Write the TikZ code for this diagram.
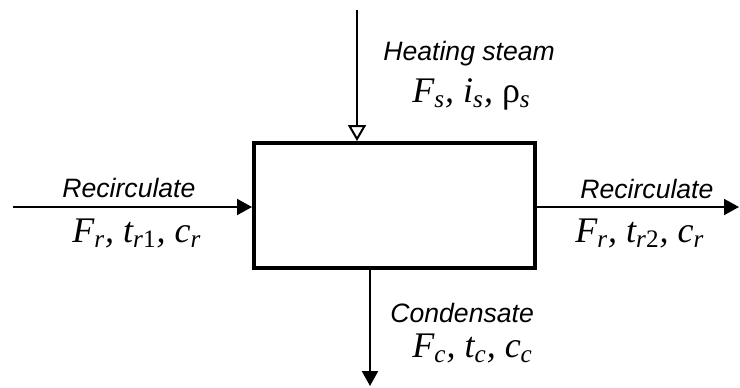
\documentclass[tikz,border=0pt]{standalone}
\usepackage{fontspec}
\setmainfont{Liberation Serif}
\setsansfont{Liberation Sans}
\usetikzlibrary{arrows.meta}
\newcommand{\flowsub}[1]{\textsubscript{#1}}

\begin{document}
\begin{tikzpicture}[x=0.5pt, y=-0.5pt,
    flusso/.style={line width=1pt, -{Triangle[length=7.5pt, width=8pt]}},
    vapore/.style={line width=1pt, -{Triangle[open, length=8pt, width=9pt]}},
    nome/.style={font=\sffamily\itshape\fontsize{13.3}{15}\selectfont, inner sep=0pt},
    dati/.style={font=\rmfamily\itshape\fontsize{18}{20}\selectfont, inner sep=0pt}]

    \useasboundingbox (0,0) rectangle (740,387);

    % Apparecchio
    \node[draw, line width=2pt, minimum width=140.5pt, minimum height=62.5pt,
          inner sep=0pt] (box) at (394.5,205.5) {};

    % Estremi liberi dei flussi
    \coordinate (steam) at (357,10);
    \coordinate (inlet) at (13,207);
    \coordinate (outlet) at (739,207);
    \coordinate (cond) at (370,386);

    % Flussi
    \draw[vapore] (steam) -- (steam |- box.north);
    \draw[flusso] (inlet) -- (inlet -| box.west);
    \draw[flusso] (box.east |- outlet) -- (outlet);
    \draw[flusso] (cond |- box.south) -- (cond);

    % Etichette
    \node[nome, anchor=base west] (steamname) at (383,60) {Heating steam};
    \node[dati, anchor=base west] (steamdata) at (412,102)
        {F\flowsub{s}, i\flowsub{s}, \textup{ρ}\flowsub{s}};

    \node[nome, anchor=base west] (inname) at (62,197) {Recirculate};
    \node[dati, anchor=base west] (indata) at (72,242)
        {F\flowsub{r}, t\flowsub{r\textup{1}}, c\flowsub{r}};

    \node[nome, anchor=base west] (outname) at (580,198) {Recirculate};
    \node[dati, anchor=base west] (outdata) at (575,242)
        {F\flowsub{r}, t\flowsub{r\textup{2}}, c\flowsub{r}};

    \node[nome, anchor=base west] (condname) at (390,322) {Condensate};
    \node[dati, anchor=base west] (conddata) at (412,357)
        {F\flowsub{c}, t\flowsub{c}, c\flowsub{c}};

\end{tikzpicture}
\end{document}
